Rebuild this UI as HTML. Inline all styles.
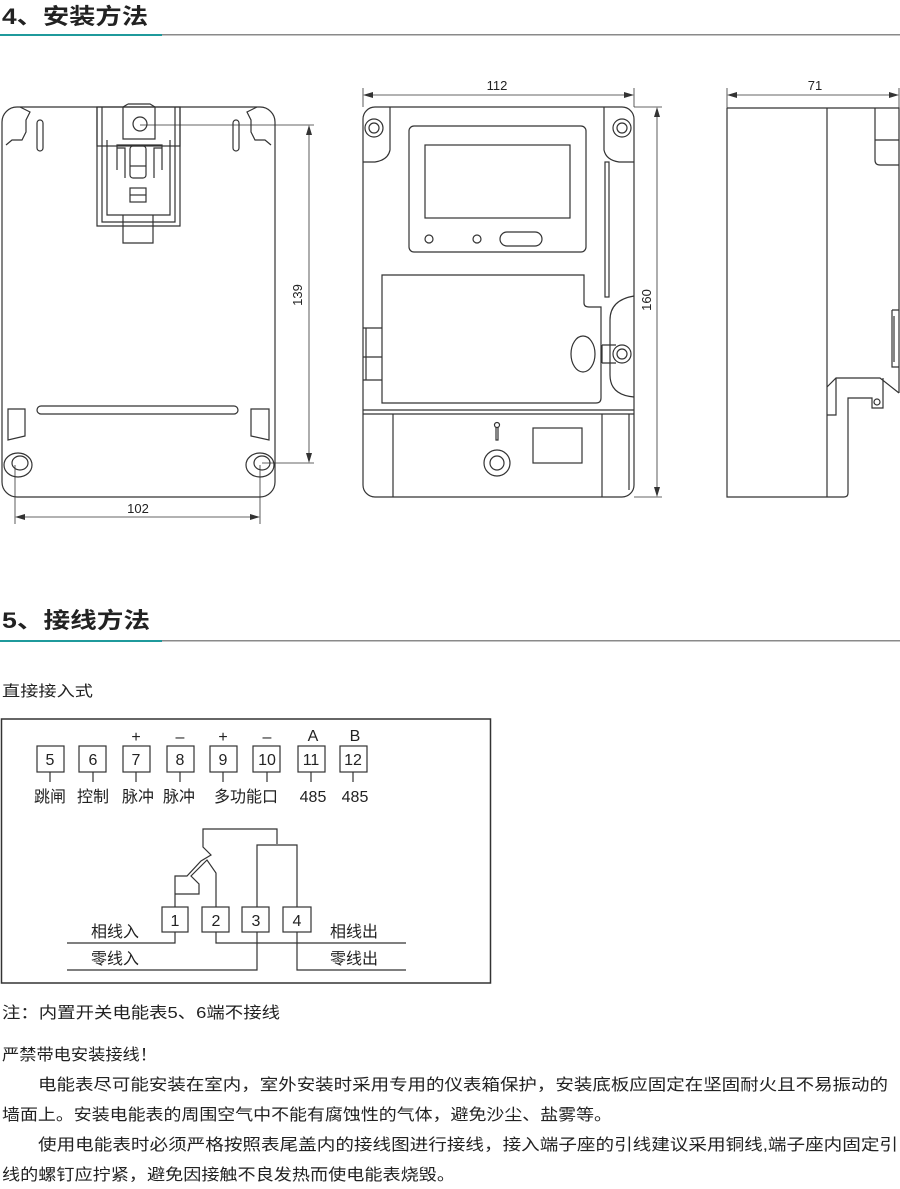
<!DOCTYPE html>
<html><head><meta charset="utf-8">
<style>
html,body{margin:0;padding:0;background:#fff;}
svg{display:block;}
text{font-family:"Liberation Sans","Noto Sans CJK SC",sans-serif;fill:#222;}
</style></head><body>
<svg width="900" height="1189" viewBox="0 0 900 1189" xmlns="http://www.w3.org/2000/svg">
<!-- Headings -->
<text x="2" y="24" font-size="22" font-weight="bold" textLength="146" lengthAdjust="spacingAndGlyphs">4、安装方法</text>
<rect x="0" y="34" width="162" height="2" fill="#1f9a9c"/>
<rect x="162" y="34" width="738" height="1.5" fill="#8a8a8a"/>
<text x="2" y="628" font-size="22" font-weight="bold" textLength="148" lengthAdjust="spacingAndGlyphs">5、接线方法</text>
<rect x="0" y="640" width="162" height="2" fill="#1f9a9c"/>
<rect x="162" y="640" width="738" height="1.5" fill="#8a8a8a"/>

<g fill="none" stroke="#333" stroke-width="1.2">
<!-- Back plate -->
<rect x="2" y="107" width="273" height="390" rx="15"/>
<path d="M6,145 L12,140 L22,140 L26,132 L26,120 L30,112 L20,107"/>
<path d="M271,145 L265,140 L255,140 L251,132 L251,120 L247,112 L257,107"/>
<rect x="37" y="120" width="6" height="31" rx="3"/>
<rect x="233" y="120" width="6" height="31" rx="3"/>
<rect x="97" y="107" width="83" height="39" />
<path d="M97,107 V226 H180 V107"/>
<path d="M102,107 V222 H175 V107"/>
<path d="M107,140 V215 H170 V140"/>
<path d="M123,107 V139 H155 V107"/>
<path d="M128,104 H150 L155,107 M128,104 L123,107"/>
<circle cx="140" cy="124" r="7"/>
<path d="M117,170 V145 H162 V170 M117,148 h8 v30 M162,148 h-8 v30"/>
<rect x="130" y="146" width="16" height="32" rx="3"/>
<line x1="130" y1="166" x2="146" y2="166"/>
<rect x="130" y="188" width="16" height="14"/>
<line x1="130" y1="195" x2="146" y2="195"/>
<path d="M123,215 V243 H153 V215"/>
<rect x="37" y="406" width="201" height="8" rx="4"/>
<path d="M8,409 H25 V436 L8,440 Z"/>
<path d="M251,409 H269 V440 L251,436 Z"/>
<ellipse cx="18" cy="465" rx="14" ry="12"/>
<ellipse cx="20" cy="463" rx="8" ry="7"/>
<ellipse cx="260" cy="465" rx="14" ry="12"/>
<ellipse cx="262" cy="463" rx="8" ry="7"/>
</g>
<g stroke="#333" stroke-width="0.8" fill="none">
<line x1="140" y1="125" x2="314" y2="125"/>
<line x1="262" y1="463" x2="314" y2="463"/>
<line x1="309" y1="127" x2="309" y2="461"/>
<line x1="15" y1="465" x2="15" y2="524"/>
<line x1="260" y1="465" x2="260" y2="524"/>
<line x1="17" y1="517" x2="258" y2="517"/>
<!-- front dims -->
<line x1="363" y1="88" x2="363" y2="107"/>
<line x1="634" y1="88" x2="634" y2="107"/>
<line x1="365" y1="95" x2="632" y2="95"/>
<line x1="634" y1="107" x2="662" y2="107"/>
<line x1="634" y1="497" x2="662" y2="497"/>
<line x1="657" y1="109" x2="657" y2="495"/>
<!-- side dims -->
<line x1="727" y1="88" x2="727" y2="108"/>
<line x1="899" y1="88" x2="899" y2="108"/>
<line x1="729" y1="95" x2="897" y2="95"/>
</g>
<g fill="#333">
<path d="M309,125 l-3,10 h6 z"/><path d="M309,463 l-3,-10 h6 z"/>
<path d="M15,517 l10,-3 v6 z"/><path d="M260,517 l-10,-3 v6 z"/>
<path d="M363,95 l10,-3 v6 z"/><path d="M634,95 l-10,-3 v6 z"/>
<path d="M657,107 l-3,10 h6 z"/><path d="M657,497 l-3,-10 h6 z"/>
<path d="M727,95 l10,-3 v6 z"/><path d="M899,95 l-10,-3 v6 z"/>
</g>
<text x="138" y="513" font-size="13" text-anchor="middle">102</text>
<text transform="translate(302,295) rotate(-90)" font-size="13" text-anchor="middle">139</text>
<text x="497" y="90" font-size="13" text-anchor="middle">112</text>
<text transform="translate(651,300) rotate(-90)" font-size="13" text-anchor="middle">160</text>
<text x="815" y="90" font-size="13" text-anchor="middle">71</text>

<!-- Front meter -->
<g fill="none" stroke="#333" stroke-width="1.2">
<rect x="363" y="107" width="271" height="390" rx="12"/>
<path d="M390,107 V150 Q388,160 375,162 H363"/>
<path d="M604,107 V150 Q606,160 619,162 H634"/>
<circle cx="374" cy="128" r="9"/><circle cx="374" cy="128" r="5"/>
<circle cx="622" cy="128" r="9"/><circle cx="622" cy="128" r="5"/>
<rect x="409" y="126" width="177" height="126" rx="5"/>
<rect x="425" y="145" width="145" height="73"/>
<circle cx="429" cy="239" r="4"/><circle cx="477" cy="239" r="4"/>
<rect x="500" y="232" width="42" height="14" rx="7"/>
<rect x="605" y="162" width="4" height="135"/>
<path d="M382,275 H584 V303 Q584,307 589,307 H601 V398 Q601,403 596,403 H382 Z"/>
<ellipse cx="583" cy="354" rx="12" ry="18"/>
<path d="M602,345 H616 M602,363 H616 M602,345 V363"/>
<circle cx="622" cy="354" r="9"/><circle cx="622" cy="354" r="5"/>
<path d="M634,296 Q610,300 610,320 V375 Q610,395 634,397"/>
<path d="M363,328 H382 M363,357 H382 M363,380 H382 M366,328 V380"/>
<line x1="363" y1="410" x2="634" y2="410"/>
<line x1="363" y1="414" x2="634" y2="414"/>
<line x1="393" y1="414" x2="393" y2="497"/>
<line x1="602" y1="414" x2="602" y2="497"/>
<line x1="629" y1="414" x2="629" y2="490"/>
<path d="M496,427 V440 H498 V427"/><circle cx="497" cy="425" r="2.5"/>
<circle cx="497" cy="463" r="13"/><circle cx="497" cy="463" r="7"/>
<rect x="533" y="428" width="49" height="35"/>
</g>

<!-- Side view -->
<g fill="none" stroke="#333" stroke-width="1.2">
<path d="M727,108 H899 V393 M727,108 V497 H844 Q848,497 848,493 V398 H872 V408 H883 V378"/>
<line x1="827" y1="108" x2="827" y2="497"/>
<path d="M875,108 V160 Q875,165 880,165 H899 M875,140 H899"/>
<path d="M892,310 H899 M892,310 V367 H899 M894,316 V362"/>
<path d="M827,387 L836,378 H880 L899,393"/>
<path d="M836,378 V415 H827"/>
<circle cx="877" cy="402" r="3"/>
</g>

<!-- Wiring box -->
<text x="2" y="696" font-size="15" textLength="91" lengthAdjust="spacingAndGlyphs">直接接入式</text>
<rect x="1.5" y="719" width="489" height="264" fill="none" stroke="#333" stroke-width="1.5"/>
<g fill="none" stroke="#333" stroke-width="1.2">
<rect x="37" y="746" width="27" height="26"/>
<rect x="79" y="746" width="27" height="26"/>
<rect x="123" y="746" width="27" height="26"/>
<rect x="167" y="746" width="27" height="26"/>
<rect x="210" y="746" width="27" height="26"/>
<rect x="253" y="746" width="27" height="26"/>
<rect x="298" y="746" width="27" height="26"/>
<rect x="340" y="746" width="27" height="26"/>
<path d="M50,772V782 M93,772V782 M136,772V782 M180,772V782 M223,772V782 M267,772V782 M311,772V782 M353,772V782"/>
<rect x="162" y="907" width="26" height="25"/>
<rect x="202" y="907" width="27" height="25"/>
<rect x="242" y="907" width="27" height="25"/>
<rect x="283" y="907" width="28" height="25"/>
<path d="M175,907 V876 H187 L201,861 L211,855 L203,847 V829 H277 V844"/>
<path d="M257,907 V845 H297 V907"/>
<path d="M175,894 H199 V884 L191,876 L207,860 L216,873 V907"/>
<path d="M67,943 H175 V932"/>
<path d="M216,932 V943 H406"/>
<path d="M67,970 H257 V932"/>
<path d="M297,932 V970 H406"/>
</g>
<g font-size="16" text-anchor="middle">
<text x="50" y="765">5</text><text x="93" y="765">6</text><text x="136" y="765">7</text><text x="180" y="765">8</text>
<text x="223" y="765">9</text><text x="267" y="765">10</text><text x="311" y="765">11</text><text x="353" y="765">12</text>
<text x="136" y="742">+</text><text x="180" y="742">–</text><text x="223" y="742">+</text><text x="267" y="742">–</text>
<text x="313" y="741">A</text><text x="355" y="741">B</text>
<text x="50" y="802">跳闸</text><text x="93" y="802">控制</text><text x="138" y="802">脉冲</text><text x="179" y="802">脉冲</text>
<text x="246" y="802">多功能口</text><text x="313" y="802">485</text><text x="355" y="802">485</text>
<text x="175" y="926">1</text><text x="216" y="926">2</text><text x="256" y="926">3</text><text x="297" y="926">4</text>
<text x="115" y="937">相线入</text><text x="115" y="964">零线入</text>
<text x="354" y="937">相线出</text><text x="354" y="964">零线出</text>
</g>

<!-- Notes -->
<g font-size="16">
<text x="2" y="1018" textLength="278" lengthAdjust="spacingAndGlyphs">注：内置开关电能表5、6端不接线</text>
<text x="2" y="1060" textLength="155" lengthAdjust="spacingAndGlyphs">严禁带电安装接线！</text>
<text x="38" y="1090" textLength="850" lengthAdjust="spacingAndGlyphs">电能表尽可能安装在室内，室外安装时采用专用的仪表箱保护，安装底板应固定在坚固耐火且不易振动的</text>
<text x="2" y="1120" textLength="610" lengthAdjust="spacingAndGlyphs">墙面上。安装电能表的周围空气中不能有腐蚀性的气体，避免沙尘、盐雾等。</text>
<text x="38" y="1150" textLength="860" lengthAdjust="spacingAndGlyphs">使用电能表时必须严格按照表尾盖内的接线图进行接线，接入端子座的引线建议采用铜线,端子座内固定引</text>
<text x="2" y="1180" textLength="453" lengthAdjust="spacingAndGlyphs">线的螺钉应拧紧，避免因接触不良发热而使电能表烧毁。</text>
</g>
</svg>
</body></html>
